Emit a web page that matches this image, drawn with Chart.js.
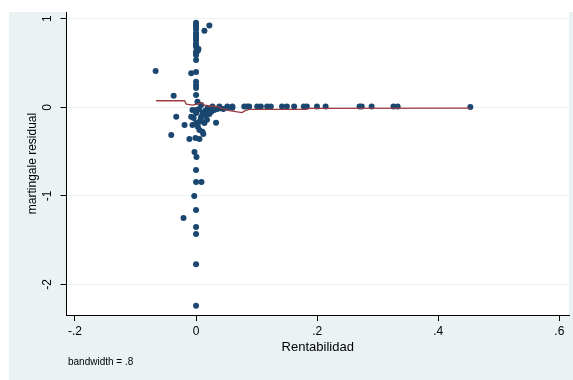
<!DOCTYPE html>
<html>
<head>
<meta charset="utf-8">
<script src="https://cdn.jsdelivr.net/npm/chart.js@4"></script>
<style>
  html, body { margin: 0; padding: 0; background: #fff; }
  #wrap { width: 573px; height: 380px; }
</style>
</head>
<body>
<div id="wrap"><canvas id="c" width="573" height="380"></canvas></div>
<script>
// tick values
const xTicks = [-0.2, 0, 0.2, 0.4, 0.6];
const yTicks = [-2, -1, 0, 1];

// scatter: rentabilidad vs martingale residual
const rentabilidad = [
  0, 0, 0.022, 0.0138, 0, 0, 0, 0, 0, 0.004, 0, 0, 0, -0.0668, 0, -0.008, 0, 0, 0, -0.037, 0, 0.0023, 0.0084,
  0, 0, 0, 0, 0, 0.003, 0,
  -0.006, 0, 0, 0.0105, 0.019, 0.027, 0.035, 0.04, 0.0516, 0.06, -0.0327, -0.008, 0.0086, 0.0165, 0.022,
  0.005, 0.015, 0.025, 0.03, 0.045, 0.008, 0.018, 0.003, -0.004,
  0.0056, 0.0138, 0.033, -0.019, 0, -0.006, 0.0056, 0.0105, -0.041, -0.011, 0.0056, -0.001, 0.012,
  -0.0026, 0.0007, 0, 0, 0.009, -0.003, 0, -0.0207, 0, 0, 0, 0,
  0.027, 0.0385, 0.0516, 0.06, 0.0796, 0.0845, 0.0878, 0.101, 0.107, 0.1174, 0.1235, 0.142, 0.150,
  0.162, 0.178, 0.183, 0.1997, 0.214, 0.27, 0.2737, 0.29, 0.326, 0.333, 0.453
];
const residual = [
  0.955, 0.91, 0.925, 0.865, 0.84, 0.80, 0.76, 0.70, 0.684, 0.658, 0.628, 0.59, 0.534, 0.41, 0.40, 0.384, 0.289, 0.251, 0.217, 0.131, 0.138, 0.063, 0.026,
  0.93, 0.88, 0.82, 0.78, 0.72, 0.64, 0.61,
  -0.03, -0.03, -0.064, -0.064, -0.01, -0.01, -0.02, -0.01, -0.005, -0.005, -0.106, -0.106, -0.106, -0.087, -0.075,
  -0.02, -0.04, -0.05, -0.03, -0.02, -0.13, -0.14, -0.22, -0.12,
  -0.163, -0.177, -0.174, -0.2, -0.177, -0.2, -0.256, -0.275, -0.313, -0.358, -0.358, -0.346, -0.30,
  -0.505, -0.561, -0.708, -0.843, -0.843, -1.0, -1.16, -1.25, -1.35, -1.43, -1.77, -2.24,
  0.008, 0.008, 0.008, 0.008, 0.008, 0.008, 0.008, 0.008, 0.008, 0.008, 0.008, 0.008, 0.008,
  0.008, 0.008, 0.008, 0.008, 0.008, 0.008, 0.008, 0.008, 0.008, 0.008, 0.005
];

// lowess smoother
const lowessX = [-0.066, -0.019, -0.016, -0.006, 0.002, 0.008, 0.014, 0.022, 0.035, 0.050, 0.055, 0.076, 0.081, 0.088, 0.181, 0.187, 0.453];
const lowessY = [0.074, 0.074, 0.037, 0.026, 0.037, 0.052, 0.026, 0.015, 0.007, -0.03, -0.037, -0.06, -0.038, -0.023, -0.023, -0.011, -0.008];

const FONT = '"Liberation Sans", Arial, sans-serif';

function fmt(v) {
  if (v === 0) return '0';
  const s = String(Math.abs(v)).replace(/^0/, '');
  return (v < 0 ? '-' : '') + s;
}

const stataBg = {
  id: 'stataBg',
  beforeDraw(chart) {
    const ctx = chart.ctx, a = chart.chartArea;
    ctx.save();
    ctx.fillStyle = '#fff';
    ctx.fillRect(0, 0, chart.width, chart.height);
    ctx.fillStyle = '#eaf2f3';
    ctx.fillRect(9, 12, chart.width - 9, chart.height - 12);
    ctx.fillStyle = '#fff';
    ctx.fillRect(a.left, a.top, a.right - a.left, a.bottom - a.top);
    ctx.restore();
  },
  afterDraw(chart) {
    const ctx = chart.ctx, a = chart.chartArea;
    const ys = chart.scales.y;
    ctx.save();
    ctx.fillStyle = '#000';
    ctx.font = '12px ' + FONT;
    ctx.textAlign = 'center';
    ctx.textBaseline = 'middle';
    // rotated y tick labels
    yTicks.forEach(v => {
      ctx.save();
      ctx.translate(48, ys.getPixelForValue(v));
      ctx.rotate(-Math.PI / 2);
      ctx.fillText(fmt(v), 0, 0);
      ctx.restore();
    });
    // y title
    ctx.save();
    ctx.translate(33, (a.top + a.bottom) / 2);
    ctx.rotate(-Math.PI / 2);
    ctx.fillText('martingale residual', 0, 0);
    ctx.restore();
    // x title
    ctx.font = '13px ' + FONT;
    ctx.fillText('Rentabilidad', (a.left + a.right) / 2, 347);
    // note
    ctx.font = '10px ' + FONT;
    ctx.textAlign = 'left';
    ctx.fillText('bandwidth = .8', 68, 362);
    ctx.restore();
  }
};

new Chart(document.getElementById('c'), {
  type: 'scatter',
  data: {
    datasets: [
      {
        type: 'line',
        data: lowessX.map((x, i) => ({ x: x, y: lowessY[i] })),
        borderColor: '#9c3a40',
        borderWidth: 1.3,
        pointRadius: 0,
        fill: false,
        tension: 0,
        order: 1
      },
      {
        data: rentabilidad.map((x, i) => ({ x: x, y: residual[i] })),
        backgroundColor: '#1a476f',
        borderWidth: 0,
        pointRadius: 3,
        order: 2
      }
    ]
  },
  options: {
    responsive: false,
    animation: false,
    layout: { padding: { top: 12, left: 0, right: 2, bottom: 0 } },
    plugins: { legend: { display: false }, tooltip: { enabled: false } },
    scales: {
      x: {
        type: 'linear',
        min: -0.214,
        max: 0.616,
        afterBuildTicks: s => { s.ticks = xTicks.map(v => ({ value: v })); },
        afterFit: s => { s.height = 65; },
        grid: { drawOnChartArea: false, tickLength: 6, tickColor: '#000', color: '#000' },
        border: { color: '#000', width: 1 },
        ticks: {
          callback: v => fmt(v),
          color: '#000',
          font: { family: FONT, size: 12 },
          padding: 3,
          maxRotation: 0
        }
      },
      y: {
        type: 'linear',
        min: -2.344,
        max: 1.076,
        afterBuildTicks: s => { s.ticks = yTicks.map(v => ({ value: v })); },
        afterFit: s => { s.width = 66.5; },
        grid: { color: '#eaf2f3', lineWidth: 1, tickLength: 6, tickColor: '#000' },
        border: { color: '#000', width: 1 },
        ticks: { display: false }
      }
    }
  },
  plugins: [stataBg]
});
</script>
</body>
</html>
